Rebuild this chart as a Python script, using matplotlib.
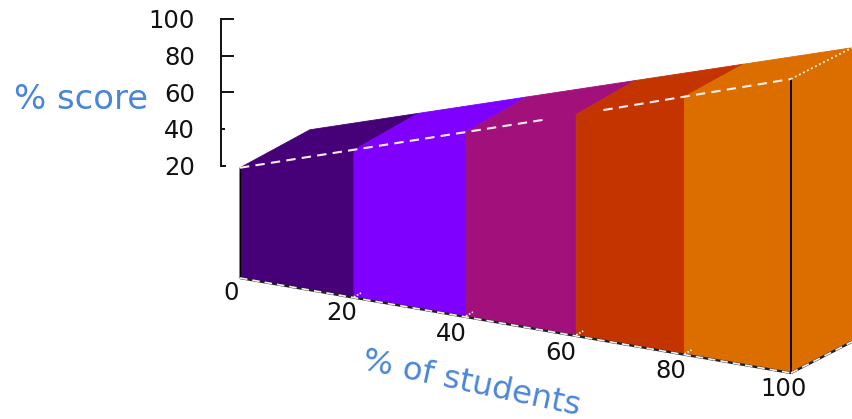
import matplotlib
matplotlib.use("Agg")
import matplotlib.pyplot as plt
from matplotlib.patches import Polygon

# Data
students = [0, 20, 40, 60, 80, 100]
scores = [20, 40, 60, 80, 100, 120]
colors = ["#460078", "#8000FF", "#A2107C", "#C43400", "#DC6E00"]
score_ticks = [20, 40, 60, 80, 100]
student_ticks = [0, 20, 40, 60, 80, 100]

# Style / layout
score_tick_len = [5, 4, 13, 13, 13]
label_dx = [-9, -12, -15, -15, -14, -8]
label_dy = [14.5, 15.5, 17.5, 17.5, 16.5, 15.5]

FLOOR = -40.0
S = 1.8375


def front(x, z=None):
    """Project a point of the front plane; z=None means the floor."""
    px = 240 + 5.743 * x - 0.00233 * x * x
    base = 278 + 0.95 * x
    return (px, base) if z is None else (px, base - S * (z - FLOOR))


def back(x, z=None):
    px = 310 + 5.42 * x
    base = 240 + 1.0175 * x
    return (px, base) if z is None else (px, base - S * (z - FLOOR))


def axis_y(v):
    return 166 - S * (v - 20)


fig = plt.figure(figsize=(8.52, 4.19), dpi=100)
ax = fig.add_axes([0, 0, 1, 1])
ax.set_xlim(0, 852)
ax.set_ylim(419, 0)
ax.axis("off")

# top faces
for i, c in enumerate(colors):
    x0, x1 = students[i], students[i + 1]
    z0, z1 = scores[i], scores[i + 1]
    ax.add_patch(Polygon([front(x0, z0), front(x1, z1), back(x1, z1), back(x0, z0)],
                         closed=True, fc=c, ec=c, lw=0.6, zorder=1))
# front faces
for i, c in enumerate(colors):
    x0, x1 = students[i], students[i + 1]
    z0, z1 = scores[i], scores[i + 1]
    ax.add_patch(Polygon([front(x0), front(x1), front(x1, z1), front(x0, z0)],
                         closed=True, fc=c, ec=c, lw=0.6, zorder=2))
# right side
xe, ze = students[-1], scores[-1]
ax.add_patch(Polygon([front(xe), back(xe), back(xe, ze), front(xe, ze)],
                     closed=True, fc=colors[-1], ec=colors[-1], lw=0.6, zorder=2))


def seg(a, b, **kw):
    ax.plot([a[0], b[0]], [a[1], b[1]], solid_capstyle="butt", **kw)


# dark box edges
seg(front(0), front(0, scores[0]), color="black", lw=1.0, zorder=3)
seg(front(xe), front(xe, ze), color="#150800", lw=1.4, zorder=3)
seg(front(0), front(xe), color="#202020", lw=1.7, zorder=3)
seg(front(xe), back(xe), color="#202020", lw=1.7, zorder=3)

# white dashed edges
floor_dash = dict(color="#F4F0F4", lw=1.2, ls=(0, (4.5, 3)), zorder=4)
seg(front(0), front(xe), **floor_dash)
seg(front(xe), back(xe), **floor_dash)
top_dash = dict(color="#FFF0F0", lw=1.5, ls=(0, (4.5, 3)), zorder=4)
gap_start, gap_end = 54, 65  # the dashed top edge breaks here in the reference
seg(front(0, scores[0]), front(gap_start, 20 + gap_start), **top_dash)
seg(front(gap_end, 20 + gap_end), front(xe, ze), **top_dash)
seg(front(xe, ze), back(xe, ze), color="#FFF4E0", lw=1.3, ls=(0, (1, 1.5)), zorder=4)

# small ticks along the bottom edge
for x in student_ticks[1:-1]:
    a = front(x)
    seg(a, (a[0] + 7, a[1] - 4), color="white", lw=1.2, ls=(0, (1, 1)), zorder=5)

# score axis
ax.plot([221, 221], [axis_y(score_ticks[0]), axis_y(score_ticks[-1])],
        color="#111111", lw=1.4, solid_capstyle="projecting", zorder=3)
for v, ln in zip(score_ticks, score_tick_len):
    yy = axis_y(v)
    seg((221, yy), (221 + ln, yy), color="#111111", lw=1.4, zorder=3)
    ax.text(195, yy + 2, str(v), ha="right", va="center", fontsize=17.5,
            color="#111111", zorder=6)

# student tick labels
for x, dx, dy in zip(student_ticks, label_dx, label_dy):
    p = front(x)
    ax.text(p[0] + dx, p[1] + dy, str(x), ha="center", va="center",
            fontsize=17.5, color="#111111", zorder=6)

ax.text(80.5, 99, "% score", ha="center", va="center", fontsize=24.4, color="#4A86D8")
ax.text(471, 383.5, "% of students", ha="center", va="center", fontsize=23.2,
        color="#4A86D8", rotation=-12, rotation_mode="anchor")

fig.savefig("out.png", dpi=100)
